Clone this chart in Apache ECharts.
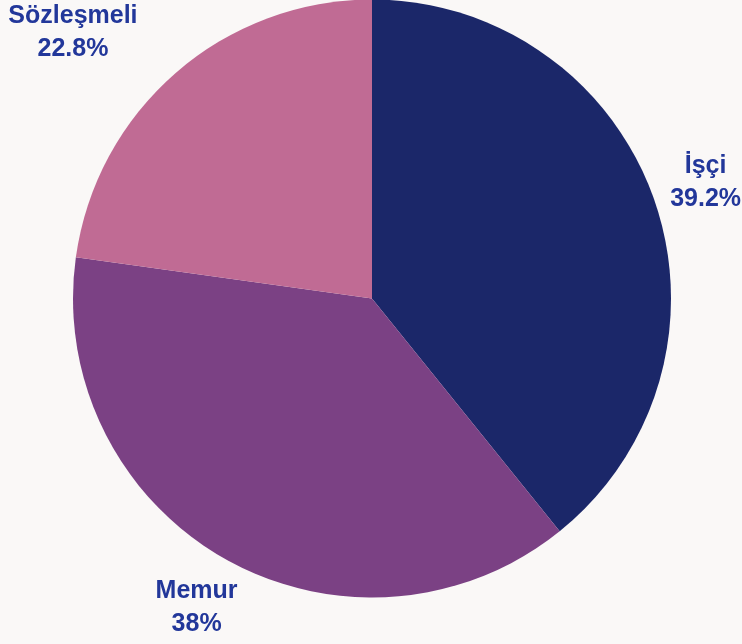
<!DOCTYPE html>
<html>
<head>
<meta charset="utf-8">
<script src="https://cdn.jsdelivr.net/npm/echarts@6/dist/echarts.min.js"></script>
<style>
  html, body { margin: 0; padding: 0; background: #faf8f7; }
  #chart { width: 742px; height: 644px; }
</style>
</head>
<body>
<div id="chart"></div>
<script>
const categories = ['İşçi', 'Memur', 'Sözleşmeli'];
const values = [39.2, 38, 22.8];
const colors = ['#1b2769', '#7b4184', '#c06b94'];

const center = [372, 298.5];
const labelOffsets = [[-4, 3], [1, -2], [-64, 4]];

const pieData = categories.map((name, i) => ({
  name: name,
  value: values[i],
  itemStyle: { color: colors[i] }
}));

const labelData = categories.map((name, i) => ({
  name: name,
  value: values[i],
  label: { offset: labelOffsets[i] }
}));

const chart = echarts.init(document.getElementById('chart'), null, { renderer: 'canvas' });
chart.setOption({
  backgroundColor: '#faf8f7',
  animation: false,
  series: [
    {
      type: 'pie',
      center: center,
      radius: 299,
      startAngle: 90,
      clockwise: true,
      silent: true,
      label: { show: false },
      labelLine: { show: false },
      itemStyle: { borderWidth: 0 },
      data: pieData
    },
    {
      type: 'pie',
      center: center,
      radius: [350, 360],
      startAngle: 90,
      clockwise: true,
      silent: true,
      itemStyle: { color: 'rgba(0,0,0,0)', borderWidth: 0 },
      labelLine: { show: false },
      label: {
        show: true,
        position: 'inside',
        formatter: function (p) { return '{a|' + p.name + '}\n{a|' + p.value + '%}'; },
        rich: {
          a: {
            fontFamily: 'Liberation Sans, Arial, sans-serif',
            fontWeight: 'bold',
            fontSize: 25,
            lineHeight: 33,
            color: '#22379a',
            align: 'center'
          }
        }
      },
      data: labelData
    }
  ]
});
</script>
</body>
</html>
